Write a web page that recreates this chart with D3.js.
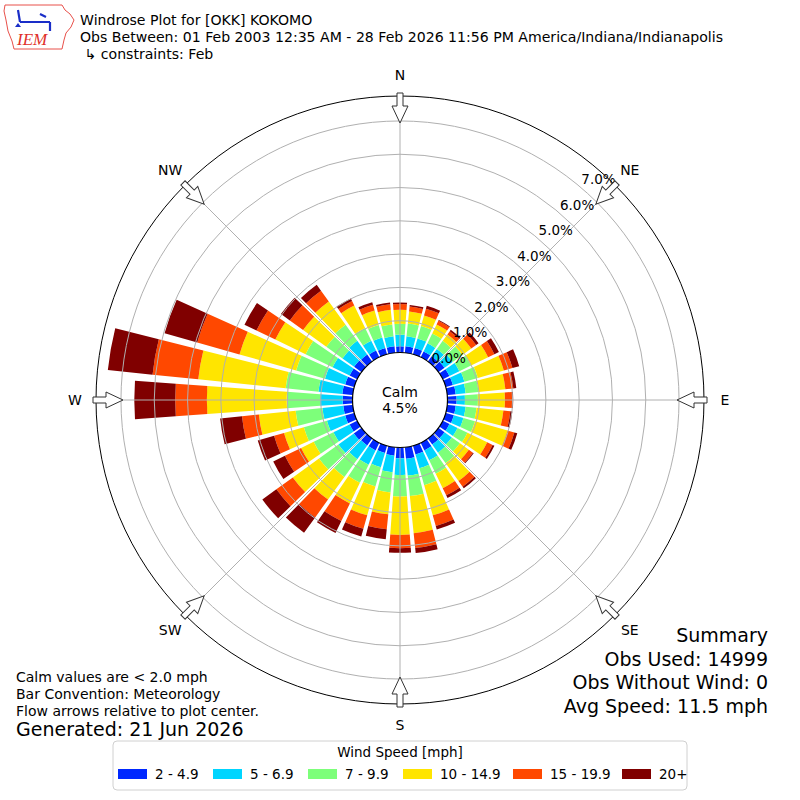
<!DOCTYPE html>
<html lang="en">
<head>
    <meta charset="UTF-8">
    <title>Windrose Plot for [OKK] KOKOMO</title>
    <script src="https://d3js.org/d3.v7.min.js"></script>
    <style>
        body { margin: 0; background: #fff; }
        svg text { font-family: "DejaVu Sans", sans-serif; fill: #000; }
    </style>
</head>
<body>
    <div id="chart-container"></div>

    <script>
        // direction bins (degrees, meteorological) and speed bins
        const directions = d3.range(0, 360, 10);
        const speedBins = ["2 - 4.9", "5 - 6.9", "7 - 9.9", "10 - 14.9", "15 - 19.9", "20+"];
        const binColors = ["#0028ff", "#00d5ff", "#7dff7a", "#ffe500", "#ff4800", "#800000"];

        // percent of obs per direction, one array per speed bin
        const spd2to5 = [0.23, 0.24, 0.24, 0.24, 0.24, 0.27, 0.27, 0.27, 0.30, 0.32, 0.30, 0.30,
                         0.27, 0.27, 0.27, 0.30, 0.32, 0.39, 0.37, 0.30, 0.27, 0.30, 0.30, 0.33,
                         0.30, 0.33, 0.33, 0.34, 0.36, 0.33, 0.30, 0.32, 0.30, 0.27, 0.24, 0.24];
        const spd5to7 = [0.35, 0.30, 0.30, 0.27, 0.27, 0.30, 0.33, 0.36, 0.30, 0.25, 0.30, 0.30,
                         0.27, 0.27, 0.30, 0.33, 0.43, 0.51, 0.50, 0.50, 0.45, 0.48, 0.51, 0.57,
                         0.54, 0.57, 0.63, 0.68, 0.72, 0.63, 0.57, 0.43, 0.51, 0.33, 0.33, 0.30];
        const spd7to10 = [0.33, 0.39, 0.39, 0.33, 0.30, 0.36, 0.39, 0.42, 0.39, 0.39, 0.33, 0.36,
                          0.33, 0.30, 0.39, 0.45, 0.53, 0.62, 0.65, 0.61, 0.60, 0.60, 0.66, 0.72,
                          0.66, 0.72, 0.81, 1.00, 0.99, 0.90, 0.90, 0.60, 0.60, 0.42, 0.39, 0.36];
        const spd10to15 = [0.42, 0.36, 0.33, 0.30, 0.24, 0.33, 0.57, 0.81, 0.81, 0.81, 0.81, 1.02,
                           0.66, 0.33, 0.66, 0.48, 0.94, 1.12, 1.15, 0.66, 0.90, 0.69, 0.84, 0.97,
                           0.42, 0.62, 1.11, 2.40, 2.64, 1.77, 1.01, 0.86, 0.86, 0.75, 0.45, 0.44];
        const spd15to20 = [0.17, 0.15, 0.21, 0.12, 0.12, 0.18, 0.21, 0.27, 0.24, 0.22, 0.21, 0.21,
                           0.18, 0.15, 0.21, 0.24, 0.33, 0.45, 0.40, 0.45, 0.42, 0.59, 0.66, 0.61,
                           0.54, 0.31, 0.51, 0.95, 1.38, 1.32, 0.63, 0.49, 0.40, 0.15, 0.18, 0.17];
        const spd20up = [0.05, 0.05, 0.09, 0.03, 0.05, 0.09, 0.15, 0.21, 0.09, 0.03, 0.06, 0.09,
                         0.06, 0.03, 0.06, 0.09, 0.11, 0.15, 0.14, 0.30, 0.24, 0.40, 0.57, 0.52,
                         0.39, 0.51, 0.66, 1.23, 1.35, 1.02, 0.40, 0.33, 0.22, 0.09, 0.08, 0.05];
        const speedSeries = [spd2to5, spd5to7, spd7to10, spd10to15, spd15to20, spd20up];

        const ringTicks = [0, 1, 2, 3, 4, 5, 6, 7];
        const compass = ["N", "NE", "E", "SE", "S", "SW", "W", "NW"];
        const calmPct = "4.5%";

        const titleLines = [
            "Windrose Plot for [OKK] KOKOMO",
            "Obs Between: 01 Feb 2003 12:35 AM - 28 Feb 2026 11:56 PM America/Indiana/Indianapolis",
            " \u21b3 constraints: Feb"
        ];
        const noteLines = ["Calm values are < 2.0 mph", "Bar Convention: Meteorology", "Flow arrows relative to plot center."];
        const generated = "Generated: 21 Jun 2026";
        const summaryLines = ["Summary", "Obs Used: 14999", "Obs Without Wind: 0", "Avg Speed: 11.5 mph"];

        const W = 800, H = 800;
        const cx = 400, cy = 400;
        const svg = d3.select("#chart-container")
            .append("svg")
            .attr("width", W)
            .attr("height", H);

        // radial scale, 0% sits on the calm circle
        const r = d3.scaleLinear().domain([0, 7.75]).range([46, 304]);
        const rad = d => d * Math.PI / 180;

        // stack the speed bins per direction
        const rows = directions.map((d, i) => {
            const row = { dir: d };
            speedBins.forEach((b, j) => row[b] = speedSeries[j][i]);
            return row;
        });
        const stacked = d3.stack().keys(speedBins)(rows);

        const plot = svg.append("g").attr("transform", `translate(${cx},${cy})`);

        const halfWidth = 4.15;
        const arc = d3.arc();
        plot.selectAll("g.layer")
            .data(stacked)
            .enter().append("g")
            .attr("class", "layer")
            .attr("fill", (d, i) => binColors[i])
            .selectAll("path")
            .data(d => d)
            .enter().append("path")
            .attr("d", d => arc({
                innerRadius: r(d[0]),
                outerRadius: r(d[1]),
                startAngle: rad(d.data.dir - halfWidth),
                endAngle: rad(d.data.dir + halfWidth)
            }));

        // grid rings and spokes drawn over the bars
        plot.selectAll("circle.ring")
            .data(ringTicks.filter(t => t > 0))
            .enter().append("circle")
            .attr("class", "ring")
            .attr("r", d => r(d))
            .attr("fill", "none")
            .attr("stroke", "#b0b0b0")
            .attr("stroke-width", 1);

        plot.selectAll("line.spoke")
            .data(d3.range(0, 360, 45))
            .enter().append("line")
            .attr("x1", d => r(0) * Math.sin(rad(d)))
            .attr("y1", d => -r(0) * Math.cos(rad(d)))
            .attr("x2", d => r(7.75) * Math.sin(rad(d)))
            .attr("y2", d => -r(7.75) * Math.cos(rad(d)))
            .attr("stroke", "#b0b0b0")
            .attr("stroke-width", 1);

        // outer frame and calm circle
        plot.append("circle")
            .attr("r", r(7.75))
            .attr("fill", "none")
            .attr("stroke", "#000")
            .attr("stroke-width", 1);

        plot.append("circle")
            .attr("r", r(0) + 1.5)
            .attr("fill", "#fff")
            .attr("stroke", "#000")
            .attr("stroke-width", 1.2);

        plot.append("text")
            .attr("text-anchor", "middle")
            .attr("y", -3)
            .style("font-size", "14px")
            .text("Calm");
        plot.append("text")
            .attr("text-anchor", "middle")
            .attr("y", 13)
            .style("font-size", "14px")
            .text(calmPct);

        // ring labels along 40 degrees
        plot.selectAll("text.rlabel")
            .data(ringTicks)
            .enter().append("text")
            .attr("class", "rlabel")
            .attr("x", d => r(d) * Math.sin(rad(40)) + 2)
            .attr("y", d => -r(d) * Math.cos(rad(40)) - 2)
            .style("font-size", "13.5px")
            .text(d => d.toFixed(1) + "%");

        // compass labels and inward arrows
        plot.selectAll("text.compass")
            .data(compass)
            .enter().append("text")
            .attr("text-anchor", "middle")
            .attr("dominant-baseline", "central")
            .attr("x", (d, i) => 325 * Math.sin(rad(i * 45)))
            .attr("y", (d, i) => -325 * Math.cos(rad(i * 45)))
            .style("font-size", "14px")
            .text(d => d);

        const arrowPts = [[-3, -307], [3, -307], [3, -294], [8, -294], [0, -277], [-8, -294], [-3, -294]];
        plot.selectAll("path.arrow")
            .data(compass)
            .enter().append("path")
            .attr("d", d3.line()(arrowPts) + "Z")
            .attr("transform", (d, i) => `rotate(${i * 45})`)
            .attr("fill", "#fff")
            .attr("stroke", "#333")
            .attr("stroke-width", 1);

        // IEM logo (rough)
        const logo = svg.append("g");
        logo.append("path")
            .attr("d", "M5,5 L62,5 L65,10 L70,14 L74,20 L71,27 L66,33 L64,40 L62,49 L14,49 L12,41 L8,31 L6,20 L4,11 Z")
            .attr("fill", "none")
            .attr("stroke", "#e8504a")
            .attr("stroke-width", 1);
        logo.append("path")
            .attr("d", "M20,22 L50,22 M18,10 L20,22 M40,14 L46,17 M50,22 L50,31")
            .attr("stroke", "#1a2ec8")
            .attr("stroke-width", 2.2)
            .attr("fill", "none");
        logo.append("path")
            .attr("d", "M18,23 L21,27 L15,27 Z")
            .attr("fill", "#1a2ec8");
        logo.append("text")
            .attr("x", 17)
            .attr("y", 45)
            .style("font-family", "'Liberation Serif', serif")
            .style("font-style", "italic")
            .style("font-size", "17px")
            .style("fill", "#e0302a")
            .text("IEM");

        // title
        svg.selectAll("text.title")
            .data(titleLines)
            .enter().append("text")
            .attr("x", 80)
            .attr("y", (d, i) => 25 + i * 17)
            .style("font-size", "14.1px")
            .style("white-space", "pre")
            .text(d => d);

        // notes bottom left
        svg.selectAll("text.note")
            .data(noteLines)
            .enter().append("text")
            .attr("x", 16)
            .attr("y", (d, i) => 682 + i * 17)
            .style("font-size", "14px")
            .text(d => d);
        svg.append("text")
            .attr("x", 16)
            .attr("y", 736)
            .style("font-size", "19px")
            .text(generated);

        // summary bottom right
        svg.selectAll("text.summary")
            .data(summaryLines)
            .enter().append("text")
            .attr("x", 768)
            .attr("y", (d, i) => 642 + i * 23.5)
            .attr("text-anchor", "end")
            .style("font-size", "19px")
            .text(d => d);

        // legend
        const legend = svg.append("g").attr("transform", "translate(113,741)");
        legend.append("rect")
            .attr("width", 574)
            .attr("height", 49)
            .attr("rx", 4)
            .attr("fill", "#fff")
            .attr("stroke", "#d0d0d0");
        legend.append("text")
            .attr("x", 287)
            .attr("y", 16)
            .attr("text-anchor", "middle")
            .style("font-size", "13.5px")
            .text("Wind Speed [mph]");
        const legendX = [5, 100, 195, 290, 400, 509];
        const item = legend.selectAll("g.item")
            .data(speedBins)
            .enter().append("g")
            .attr("transform", (d, i) => `translate(${legendX[i]},28)`);
        item.append("rect")
            .attr("width", 29)
            .attr("height", 10)
            .attr("fill", (d, i) => binColors[i]);
        item.append("text")
            .attr("x", 37)
            .attr("y", 10)
            .style("font-size", "13.5px")
            .text(d => d);
    </script>
</body>
</html>
